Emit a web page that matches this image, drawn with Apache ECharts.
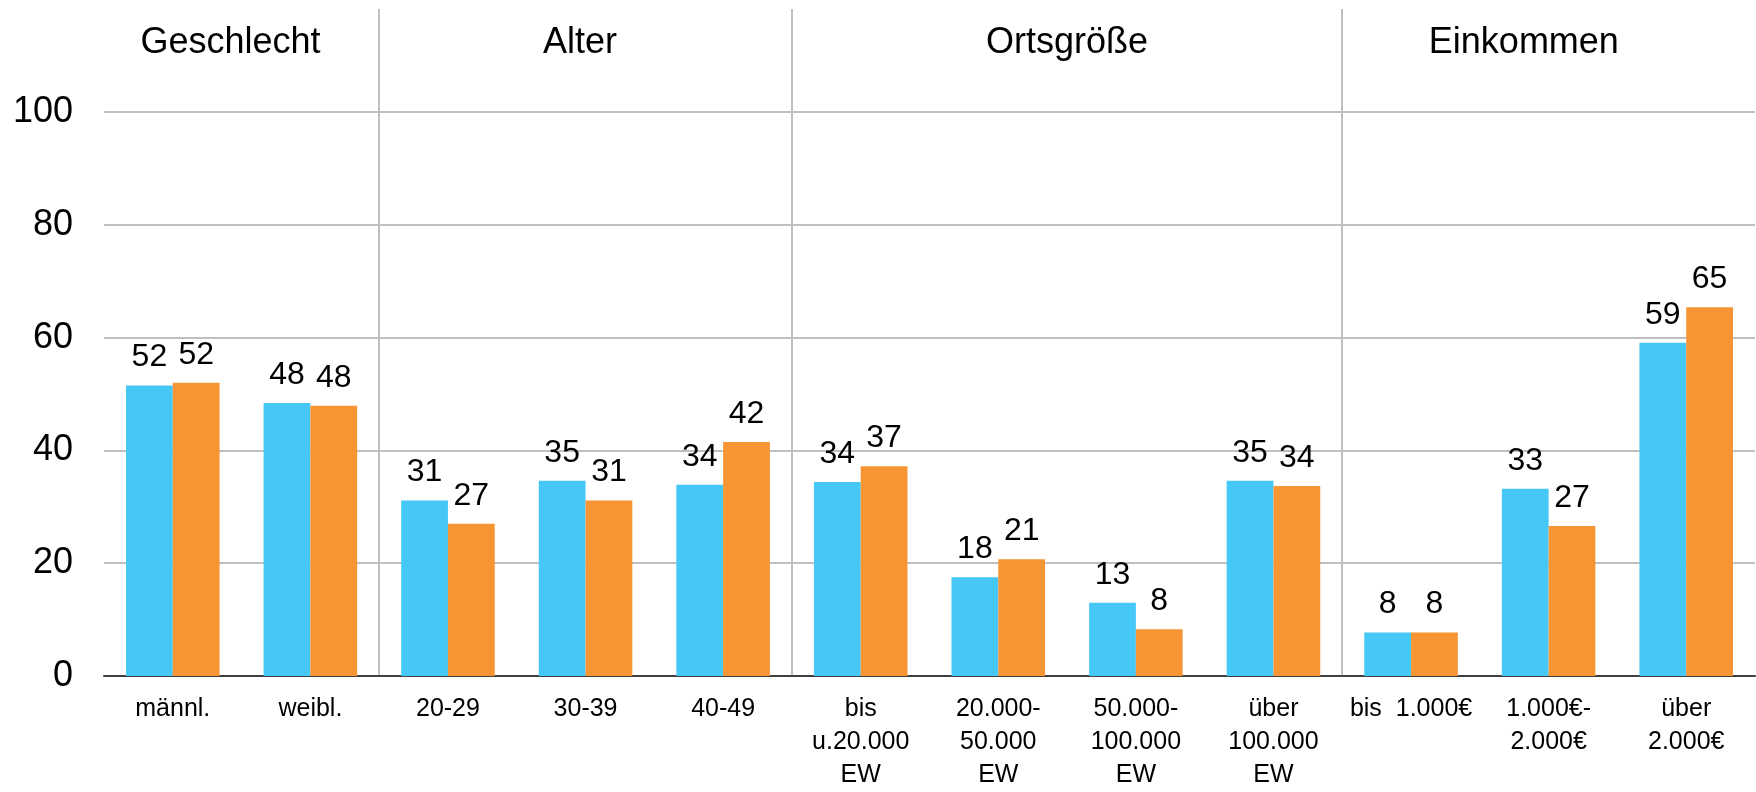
<!DOCTYPE html>
<html>
<head>
<meta charset="utf-8">
<script src="https://cdn.jsdelivr.net/npm/echarts@6/dist/echarts.min.js"></script>
<style>
html,body{margin:0;padding:0;background:#fff;}
#chart{width:1756px;height:792px;}
</style>
</head>
<body>
<div id="chart"></div>
<script>
var categories = ['männl.', 'weibl.', '20-29', '30-39', '40-49',
  'bis\nu.20.000\nEW', '20.000-\n50.000\nEW', '50.000-\n100.000\nEW', 'über\n100.000\nEW',
  'bis  1.000€', '1.000€-\n2.000€', 'über\n2.000€'];
var seriesBlue = [51.5, 48.4, 31.1, 34.6, 33.9, 34.4, 17.5, 13.0, 34.6, 7.7, 33.2, 59.1];
var seriesOrange = [52.0, 47.9, 27.0, 31.1, 41.5, 37.2, 20.7, 8.3, 33.7, 7.7, 26.6, 65.4];
var groupTitles = ['Geschlecht', 'Alter', 'Ortsgröße', 'Einkommen'];
var groupEnds = [2, 5, 9, 12]; // category index where each group ends (exclusive)
var yTicks = [0, 20, 40, 60, 80, 100];

var FONT = '"Liberation Sans", Arial, sans-serif';
var chart = echarts.init(document.getElementById('chart'));

var labelOpt = {
  show: true, position: 'top', distance: 12,
  color: '#000', fontFamily: FONT, fontSize: 32,
  formatter: function (p) { return Math.round(p.value); }
};

chart.setOption({
  animation: false,
  grid: { left: 104, right: 1, top: 112, bottom: 111, containLabel: false },
  xAxis: {
    type: 'category', data: categories,
    axisLine: { lineStyle: { color: '#404040', width: 2 } },
    axisTick: { show: false },
    axisLabel: { color: '#000', fontFamily: FONT, fontSize: 25, lineHeight: 33, margin: 17, interval: 0 },
    splitLine: { show: false }
  },
  yAxis: {
    type: 'value', min: yTicks[0], max: yTicks[yTicks.length - 1], interval: 20,
    axisLine: { show: false }, axisTick: { show: false },
    axisLabel: { color: '#000', fontFamily: FONT, fontSize: 36, margin: 31 },
    splitLine: { lineStyle: { color: '#BFBFBF', width: 2 } }
  },
  series: [
    { type: 'bar', data: seriesBlue, barGap: '0%', barCategoryGap: '32%',
      itemStyle: { color: '#45C8F5' }, label: labelOpt },
    { type: 'bar', data: seriesOrange, barGap: '0%', barCategoryGap: '32%',
      itemStyle: { color: '#F79433' }, label: labelOpt }
  ]
});

function drawGroups() {
  var x0 = chart.convertToPixel({ xAxisIndex: 0 }, 0);
  var x1 = chart.convertToPixel({ xAxisIndex: 0 }, 1);
  var cw = x1 - x0;
  var left = x0 - cw / 2;
  var titleU = [0.92, 3.46, 7.0, 10.32];
  var els = [];
  for (var i = 0; i < groupEnds.length - 1; i++) {
    var bx = Math.round(left + groupEnds[i] * cw);
    els.push({ type: 'line', shape: { x1: bx, y1: 9, x2: bx, y2: 675 },
      style: { stroke: '#BFBFBF', lineWidth: 2 }, z: 0 });
  }
  for (var j = 0; j < groupTitles.length; j++) {
    els.push({ type: 'text', x: left + titleU[j] * cw, y: 43,
      style: { text: groupTitles[j], fill: '#000', font: '36px ' + FONT,
        textAlign: 'center', textVerticalAlign: 'middle' } });
  }
  chart.setOption({ graphic: { elements: els } });
}
drawGroups();
</script>
</body>
</html>
